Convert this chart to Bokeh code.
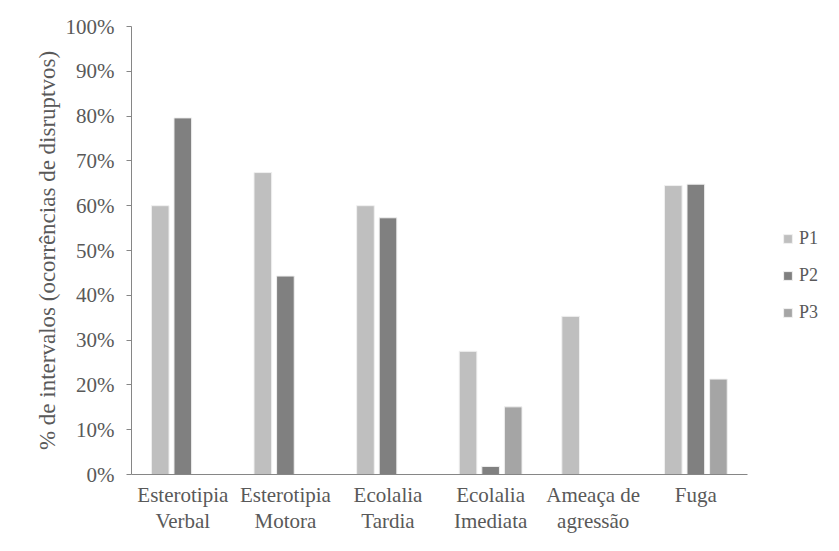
from bokeh.plotting import figure
from bokeh.models import ColumnDataSource, Range1d, FixedTicker, PrintfTickFormatter, Legend, LegendItem
from bokeh.transform import dodge
from bokeh.embed import file_html
from bokeh.resources import INLINE

categories = ["Esterotipia\nVerbal", "Esterotipia\nMotora", "Ecolalia\nTardia",
              "Ecolalia\nImediata", "Ameaça de\nagressão", "Fuga"]
p1 = [60.0, 67.4, 60.0, 27.5, 35.3, 64.5]
p2 = [79.6, 44.3, 57.3, 1.8, 0.0, 64.8]
p3 = [0.0, 0.0, 0.0, 15.1, 0.0, 21.3]
series_names = ["P1", "P2", "P3"]
colors = ["#bfbfbf", "#808080", "#a5a5a5"]
y_ticks = [0, 10, 20, 30, 40, 50, 60, 70, 80, 90, 100]

n = len(categories)
xpos = [i + 0.5 for i in range(n)]
src = ColumnDataSource(dict(x=xpos, P1=p1, P2=p2, P3=p3))

FONT = "Liberation Serif"
TXT = "#595959"
AX = "#868686"

p = figure(width=823, height=535, x_range=Range1d(0, 6.715), y_range=Range1d(0, 100),
           output_backend="svg", toolbar_location=None,
           min_border_left=131, min_border_top=26, min_border_right=3, min_border_bottom=59)
p.outline_line_color = None
p.xgrid.grid_line_color = None
p.ygrid.grid_line_color = None

offsets = [-0.22, 0.0, 0.22]
renderers = []
for name, col, off in zip(series_names, colors, offsets):
    r = p.vbar(x=dodge("x", off), top=name, width=0.172, source=src,
               fill_color=col, line_color="#f0f0f0", line_width=1)
    renderers.append(r)

# y axis
ya = p.yaxis[0]
ya.ticker = FixedTicker(ticks=y_ticks)
ya.formatter = PrintfTickFormatter(format="%d%%")
ya.axis_line_color = AX
ya.major_tick_line_color = AX
ya.major_tick_out = 5
ya.major_tick_in = 0
ya.minor_tick_line_color = None
ya.major_label_text_font = FONT
ya.major_label_text_font_size = "21px"
ya.major_label_text_color = TXT
ya.major_label_standoff = 12
ya.axis_label = "% de intervalos (ocorrências de disruptvos)"
ya.axis_label_text_font = FONT
ya.axis_label_text_font_size = "23px"
ya.axis_label_text_font_style = "normal"
ya.axis_label_text_color = TXT
ya.axis_label_standoff = 3

# x axis
xa = p.xaxis[0]
xa.ticker = FixedTicker(ticks=xpos)
xa.major_label_overrides = {x: c for x, c in zip(xpos, categories)}
xa.bounds = (0, n)
xa.axis_line_color = AX
xa.major_tick_line_color = None
xa.major_tick_out = 0
xa.major_tick_in = 0
xa.minor_tick_line_color = None
xa.major_label_text_font = FONT
xa.major_label_text_font_size = "21px"
xa.major_label_text_line_height = 1.1
xa.major_label_text_color = TXT
xa.major_label_standoff = 8

legend = Legend(items=[LegendItem(label=s, renderers=[r]) for s, r in zip(series_names, renderers)],
                location=(651, 151), border_line_color=None, background_fill_alpha=0,
                padding=0, spacing=15, glyph_width=11, glyph_height=11, label_height=22,
                label_standoff=6, label_text_font=FONT, label_text_font_size="18px",
                label_text_color=TXT)
p.add_layout(legend, "center")

open("out.html", "w").write(file_html(p, INLINE))
